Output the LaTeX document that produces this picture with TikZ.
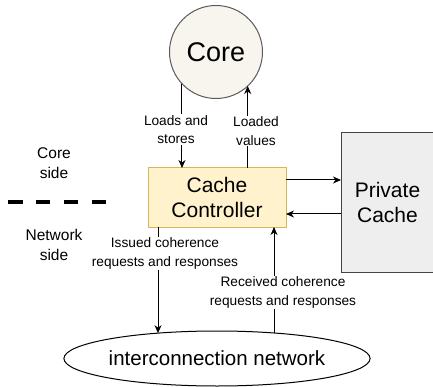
\documentclass[tikz,border=0pt]{standalone}
\usepackage{fontspec}
\setmainfont{Liberation Sans}
\usetikzlibrary{arrows.meta,shapes.geometric,calc}
\definecolor{corefill}{HTML}{F7F5EE}
\definecolor{coreline}{HTML}{5A5A5A}
\definecolor{ccfill}{HTML}{FFF2CC}
\definecolor{ccline}{HTML}{D6B656}
\definecolor{pcfill}{HTML}{EEEEEE}
\definecolor{pcline}{HTML}{444444}
\begin{document}
\begin{tikzpicture}[x=1pt,y=-1pt,
  arr/.style={draw=black, line width=1pt, -{Stealth[length=8pt,width=7pt,inset=2.5pt]}},
  lbl/.style={fill=white, inner sep=1pt, align=center, font=\fontsize{13.7}{18.5}\selectfont},
  sidelbl/.style={inner sep=0pt, align=center, font=\fontsize{15.5}{19.5}\selectfont},
  box/.style={rectangle, line width=1pt, inner sep=0pt, outer sep=0pt, align=center}]
\useasboundingbox (0,0) rectangle (433,387);
% nodes
\node[circle, draw=coreline, fill=corefill, line width=1pt, minimum size=93pt, inner sep=0pt, outer sep=0pt,
      font=\fontsize{27}{30}\selectfont] (core) at (216,52) {Core};
\node[box, draw=ccline, fill=ccfill, minimum width=138pt, minimum height=59pt,
      font=\fontsize{21}{24.5}\selectfont] (cc) at (217,197.5) {Cache\\Controller};
\node[box, draw=pcline, fill=pcfill, minimum width=93pt, minimum height=139pt,
      font=\fontsize{21}{25.5}\selectfont] (pc) at (387.5,202.5) {Private\\Cache};
\node[ellipse, draw=black, line width=1pt, fill=white, minimum width=265pt, minimum height=55pt,
      inner sep=0pt, outer sep=0pt, font=\fontsize{20.5}{24}\selectfont] (net) at (217,358.5) {interconnection network};
% side labels and divider
\node[sidelbl] (coreside) at (54,163) {Core\\side};
\node[sidelbl] (netside) at (54,245) {Network\\side};
\coordinate (dl) at (8.3,202);
\coordinate (dr) at (106,202);
\draw[line width=4pt, dash pattern=on 14.3pt off 13.5pt] (dl) -- (dr);
% connectors
\draw[arr] (core.223) -- (core.223 |- cc.north);
\draw[arr] (core.313.5 |- cc.north) -- (core.313.5);
\draw[arr] ([yshift=17.5pt]cc.east) -- ([yshift=17.5pt]cc.east -| pc.west);
\draw[arr] ([yshift=-16.5pt]cc.east -| pc.west) -- ([yshift=-16.5pt]cc.east);
\draw[arr] ([xshift=-59pt]cc.south) -- ([xshift=-59pt]cc.south |- net.157);
\draw[arr] ([xshift=57pt]cc.south |- net.24) -- ([xshift=57pt]cc.south);
% connector labels
\node[lbl] (l1) at (176,129.5) {Loads and\\stores};
\node[lbl] (l2) at (256,131) {Loaded\\values};
\node[lbl] (l3) at (165,253.5) {Issued coherence\\requests and responses};
\node[lbl] (l4) at (283,292.5) {Received coherence\\requests and responses};
\end{tikzpicture}
\end{document}
